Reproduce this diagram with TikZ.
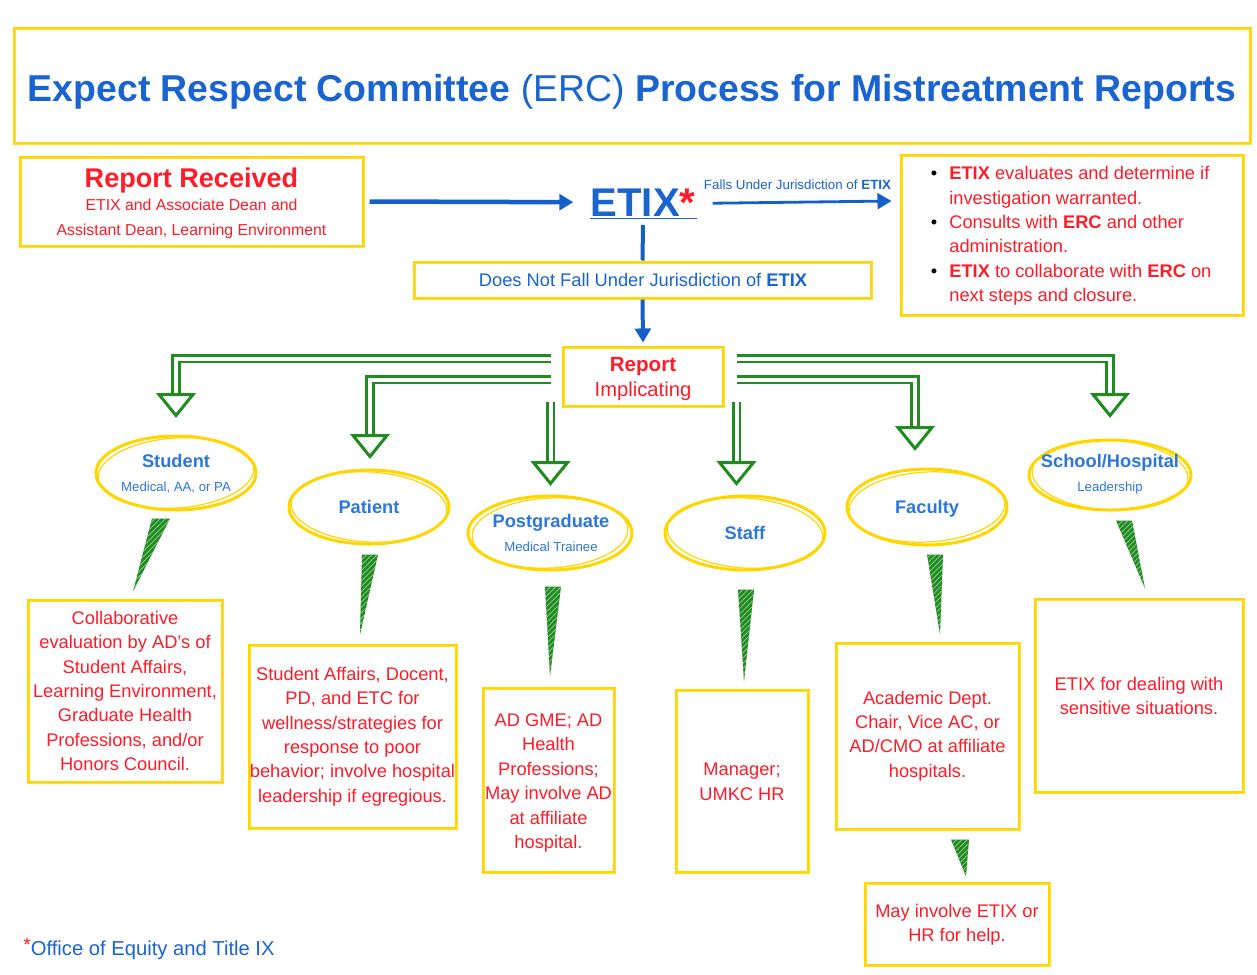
\documentclass[tikz,border=0pt]{standalone}
\usepackage{fontspec}
\setmainfont{Liberation Sans}
\usetikzlibrary{arrows.meta,patterns,shapes.geometric,calc}
\newdimen\px \px=0.02cm
\definecolor{tblue}{RGB}{26,100,210}
\definecolor{lblue}{RGB}{45,118,220}
\definecolor{ablue}{RGB}{20,95,200}
\definecolor{rred}{RGB}{255,28,40}
\definecolor{yel}{RGB}{255,214,0}
\definecolor{grn}{RGB}{30,140,30}
\newcommand\fsz[2]{\fontsize{#1}{#2}\selectfont}
\newcommand\hhead[1]{\draw[grn, line width=3\px, fill=white, line join=miter] ($(#1)+(-17,-21)$) -- ($(#1)+(17,-21)$) -- (#1) -- cycle;}
\newcommand\gwedge[3]{\path[fill=grn, postaction={pattern=north east lines, pattern color=white!55!grn}] ($(#1)+(-#3,0)$) -- ($(#1)+(#3,0)$) -- (#2) -- cycle;}
\begin{document}
\begin{tikzpicture}[x=0.02cm,y=-0.02cm,
  ybox/.style={draw=yel, line width=3\px, fill=white, inner sep=0pt, rectangle,
     postaction={draw=yel!80!white, line width=1.2\px, transform canvas={shift={(1.6\px,-1.4\px)}}}},
  yell/.style={draw=yel, line width=3\px, ellipse, inner sep=0pt},
  body/.style={text=rred, align=center, font=\fsz{10.4}{13.9}, inner sep=0pt},
  etitle/.style={text=lblue, font=\fsz{10.4}{12}\bfseries, inner sep=0pt, anchor=base},
  esub/.style={text=lblue, font=\fsz{7.5}{9}, inner sep=0pt, anchor=base},
  gshaft/.style={draw=grn, line width=2.8\px, double=white, double distance=4\px, line join=miter},
  barrow/.style={draw=ablue, -{Triangle[length=8pt, width=9pt]}},
]
\useasboundingbox (0,0) rectangle (1257,974);

% title
\node[ybox, minimum width=1236\px, minimum height=115\px] (title) at (632,85.5) {};
\node[anchor=base, inner sep=0pt, text=tblue, font=\fsz{21.3}{25}\bfseries] (ttext) at (632,101)
  {Expect Respect Committee {\mdseries (ERC)} Process for Mistreatment Reports};

% report received
\node[ybox, minimum width=343\px, minimum height=89\px] (rr) at (191.5,201.5) {};
\node[anchor=base, inner sep=0pt, text=rred, font=\fsz{15.4}{18}\bfseries] (rrt) at (191.5,187) {Report Received};
\node[anchor=base, inner sep=0pt, text=rred, font=\fsz{9}{11}] (rrs1) at (191.5,210.5) {ETIX and Associate Dean and};
\node[anchor=base, inner sep=0pt, text=rred, font=\fsz{9}{11}] (rrs2) at (191.5,235.5) {Assistant Dean, Learning Environment};

% ETIX
\node[anchor=base, inner sep=0pt, text=tblue, font=\fsz{22.8}{26}\bfseries] (etix) at (643,216) {ETIX\textcolor{rred}{*}};
\draw[tblue, line width=1.6\px] (590,218.5) -- (697,218.5);

% right box
\node[ybox, minimum width=342\px, minimum height=160\px] (rbox) at (1072,235) {};
\node[body, align=left, anchor=west] (rtext) at (949,236)
 {\llap{\textcolor{black}{\textbullet}\hspace{12\px}}\textbf{ETIX} evaluates and determine if\\
  investigation warranted.\\
  \llap{\textcolor{black}{\textbullet}\hspace{12\px}}Consults with \textbf{ERC} and other\\
  administration.\\
  \llap{\textcolor{black}{\textbullet}\hspace{12\px}}\textbf{ETIX} to collaborate with \textbf{ERC} on\\
  next steps and closure.};

% blue arrows
\draw[barrow, line width=4.5\px] ($(rr.east)+(5,0)$) -- ($(etix.west)+(-17,0)$);
\draw[barrow, line width=2.8\px] ($(etix.east)+(17,1)$) -- ($(rbox.west)+(-8,-34)$);
\node[anchor=base, inner sep=0pt, text=tblue, font=\fsz{7.6}{9}] (fu) at (797.5,189) {Falls Under Jurisdiction of \textbf{ETIX}};

% does not fall
\node[ybox, minimum width=457\px, minimum height=36\px] (dn) at (642.5,280) {};
\node[inner sep=0pt, anchor=base, text=tblue, font=\fsz{10.4}{12}] (dnt) at (643,286.5) {Does Not Fall Under Jurisdiction of \textbf{ETIX}};
\draw[ablue, line width=4\px] ($(etix.base)+(0,9)$) -- (dn.north);

% report implicating
\node[ybox, minimum width=160\px, minimum height=59\px] (rimp) at (643,376.5) {};
\node[anchor=base, inner sep=0pt, text=rred, font=\fsz{11.7}{14}\bfseries] (rimt1) at (643,371.5) {Report};
\node[anchor=base, inner sep=0pt, text=rred, font=\fsz{11.5}{14}] (rimt2) at (643,396) {Implicating};
\draw[barrow, line width=4\px] (dn.south) -- ($(rimp.north)+(0,-3)$);

% ellipses
\node[yell, minimum width=160\px, minimum height=74\px] (stu) at (176,473) {};
\node[yell, minimum width=160\px, minimum height=74\px] (pat) at (369,507) {};
\node[yell, minimum width=164\px, minimum height=74\px] (pg) at (550,533) {};
\node[yell, minimum width=160\px, minimum height=74\px] (stf) at (745,533) {};
\node[yell, minimum width=160\px, minimum height=76\px] (fac) at (927,507) {};
\node[yell, minimum width=162\px, minimum height=70\px] (sch) at (1110,475) {};
\foreach \n/\r in {stu/4,pat/-3,pg/3,stf/-4,fac/3,sch/-3}{
  \draw[yel, line width=1.2\px, rotate around={\r:(\n.center)}] (\n.center) ellipse [x radius=78, y radius=35];
}
\node[etitle] (stut) at (176,467.5) {Student};
\node[esub] (stus) at (176,491.7) {Medical, AA, or PA};
\node[etitle] (patt) at (369,513.5) {Patient};
\node[etitle] (pgt) at (551,527.5) {Postgraduate};
\node[esub] (pgs) at (551,551.7) {Medical Trainee};
\node[etitle] (stft) at (745,539.5) {Staff};
\node[etitle] (fact) at (927,513.5) {Faculty};
\node[etitle] (scht) at (1110,467.5) {School/Hospital};
\node[esub] (schs) at (1110,491.7) {Leadership};

% green branch arrows
\coordinate (L1) at ($(rimp.north west)+(-11,13)$);
\coordinate (L2) at ($(rimp.north west)+(-11,34)$);
\coordinate (L3) at ($(rimp.south west)+(-11,-6)$);
\coordinate (R1) at ($(rimp.north east)+(12,13)$);
\coordinate (R2) at ($(rimp.north east)+(12,34)$);
\coordinate (R3) at ($(rimp.south east)+(12,-6)$);
\coordinate (T1) at ($(stu.north)+(0,-19)$);
\coordinate (T2) at ($(pat.north)+(1,-12)$);
\coordinate (T3) at ($(pg.north)+(2,-11)$);
\coordinate (T4) at ($(stf.north)+(-10,-11)$);
\coordinate (T5) at ($(fac.north)+(-12,-19)$);
\coordinate (T6) at ($(sch.north)+(0,-23)$);
\draw[gshaft] (L1) -| ($(T1)+(0,-21)$);
\draw[gshaft] (L2) -| ($(T2)+(0,-21)$);
\draw[gshaft] (L3) -- ($(L3 |- T3)+(0,-21)$);
\draw[gshaft] (R3) -- ($(R3 |- T4)+(0,-21)$);
\draw[gshaft] (R2) -| ($(T5)+(0,-21)$);
\draw[gshaft] (R1) -| ($(T6)+(0,-21)$);
\hhead{T1}\hhead{T2}
\coordinate (T3b) at (L3 |- T3); \hhead{T3b}
\coordinate (T4b) at (R3 |- T4); \hhead{T4b}
\hhead{T5}\hhead{T6}

% boxes
\node[ybox, minimum width=194\px, minimum height=182\px] (sbox) at (125,691) {};
\node[body] (sboxt) at (125,691) {Collaborative\\evaluation by AD’s of\\Student Affairs,\\Learning Environment,\\Graduate Health\\Professions, and/or\\Honors Council.};
\node[ybox, minimum width=207\px, minimum height=183\px] (pbox) at (352.5,736.5) {};
\node[body] (pboxt) at (352.5,736.5) {Student Affairs, Docent,\\PD, and ETC for\\wellness/strategies for\\response to poor\\behavior; involve hospital\\leadership if egregious.};
\node[ybox, minimum width=131\px, minimum height=184\px] (gbox) at (548.5,780) {};
\node[body] (gboxt) at (548.5,783) {AD GME; AD\\Health\\Professions;\\May involve AD\\at affiliate\\hospital.};
\node[ybox, minimum width=132\px, minimum height=182\px] (tbox) at (742,781) {};
\node[body] (tboxt) at (742,782) {Manager;\\UMKC HR};
\node[ybox, minimum width=183\px, minimum height=186\px] (fbox) at (927.5,736) {};
\node[body] (fboxt) at (927.5,736) {Academic Dept.\\Chair, Vice AC, or\\AD/CMO at affiliate\\hospitals.};
\node[ybox, minimum width=208\px, minimum height=193\px] (hbox) at (1139,695.5) {};
\node[body] (hboxt) at (1139,696) {ETIX for dealing with\\sensitive situations.};
\node[ybox, minimum width=184\px, minimum height=82\px] (mbox) at (957,924) {};
\node[body] (mboxt) at (957,925) {May involve ETIX or\\HR for help.};

% wedges
\coordinate (w1a) at ($(stu.south)+(-15,7)$);  \coordinate (w1b) at ($(sbox.north)+(8,-7)$);
\coordinate (w2a) at ($(pat.south)+(1,9)$);    \coordinate (w2b) at ($(pbox.north)+(7.5,-9)$);
\coordinate (w3a) at ($(pg.south)+(3,15)$);    \coordinate (w3b) at ($(gbox.north)+(1.5,-10)$);
\coordinate (w4a) at ($(stf.south)+(1,18)$);   \coordinate (w4b) at ($(tbox.north)+(2,-7)$);
\coordinate (w5a) at ($(fac.south)+(8,8)$);    \coordinate (w5b) at ($(fbox.north)+(12.5,-7)$);
\coordinate (w6a) at ($(sch.south)+(14,9)$);   \coordinate (w6b) at ($(hbox.north)+(6,-9)$);
\coordinate (w7a) at ($(fbox.south)+(32.5,9)$); \coordinate (w7b) at ($(mbox.north)+(9,-5)$);
\gwedge{w1a}{w1b}{9}
\gwedge{w2a}{w2b}{8}
\gwedge{w3a}{w3b}{8}
\gwedge{w4a}{w4b}{8}
\gwedge{w5a}{w5b}{8}
\gwedge{w6a}{w6b}{8}
\gwedge{w7a}{w7b}{9}

% footnote
\node[anchor=base west, inner sep=0pt, text=tblue, font=\fsz{11.5}{14}] (foot) at (23,955)
  {\raisebox{3.5\px}{\textcolor{rred}{\fsz{11}{12}*}}Office of Equity and Title IX};
\end{tikzpicture}
\end{document}
